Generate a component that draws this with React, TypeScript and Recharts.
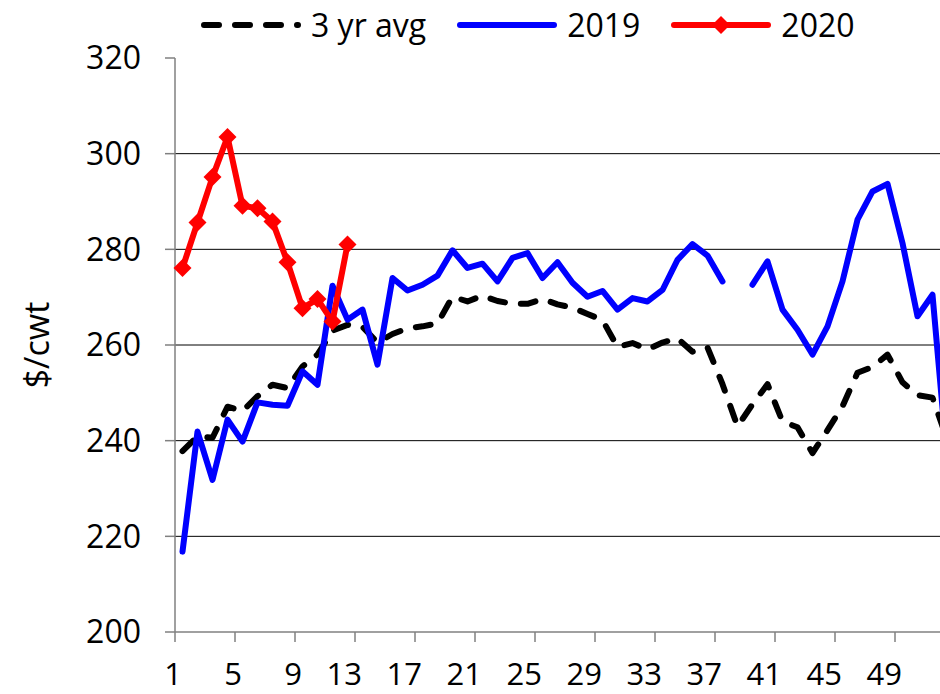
import React from 'react';
import { LineChart, Line, XAxis, YAxis, CartesianGrid } from 'recharts';

const weeks = [
  1, 2, 3, 4, 5, 6, 7, 8, 9, 10, 11, 12, 13, 14, 15, 16, 17, 18, 19, 20, 21, 22, 23, 24, 25, 26,
  27, 28, 29, 30, 31, 32, 33, 34, 35, 36, 37, 38, 39, 40, 41, 42, 43, 44, 45, 46, 47, 48, 49, 50, 51, 52,
];

const avg3yr = [
  237.8, 240.9, 240.6, 247.1, 246.2, 249.3, 251.7, 251.0, 255.5, 258.0, 263.0, 264.2, 263.8,
  260.5, 262.3, 263.5, 263.9, 264.5, 270.1, 269.1, 270.3, 269.2, 268.6, 268.6, 269.6, 268.5,
  267.8, 266.5, 265.2, 259.6, 260.4, 259.1, 260.5, 261.4, 258.6, 259.5, 251.8, 243.0, 247.6,
  251.8, 244.0, 242.8, 237.4, 242.2, 247.2, 254.2, 255.4, 258.0, 252.2, 249.5, 249.0, 240.0,
];

const y2019: (number | null)[] = [
  216.8, 241.9, 231.8, 244.4, 239.8, 248.0, 247.5, 247.3, 254.5, 251.7, 272.4, 265.3, 267.4,
  255.9, 274.0, 271.4, 272.6, 274.5, 279.8, 276.1, 277.0, 273.3, 278.2, 279.2, 274.0, 277.3,
  273.0, 270.1, 271.3, 267.4, 269.8, 269.1, 271.5, 277.8, 281.1, 278.7, 273.3, null, 272.6,
  277.5, 267.4, 263.2, 258.0, 263.9, 273.3, 286.2, 292.1, 293.7, 281.3, 266.0, 270.5, 235.0,
];

const y2020 = [276.1, 285.6, 295.1, 303.5, 289.1, 288.6, 285.8, 277.3, 267.7, 269.6, 264.9, 281.0];

const yTicks = [200, 220, 240, 260, 280, 300, 320];
const gridValues = [220, 240, 260, 280, 300];
const xTicks = [0.5, 4.5, 8.5, 12.5, 16.5, 20.5, 24.5, 28.5, 32.5, 36.5, 40.5, 44.5, 48.5];
const xTickLabels = ['1', '5', '9', '13', '17', '21', '25', '29', '33', '37', '41', '45', '49'];
const yDomain = [200, 320];

const seriesNames = ['3 yr avg', '2019', '2020'];
const seriesKeys = ['avg', 'y2019', 'y2020'];
const seriesColors = ['#000000', '#0000FF', '#FF0000'];

const data = weeks.map((w, i) => ({
  week: w,
  avg: avg3yr[i],
  y2019: y2019[i],
  y2020: i < y2020.length ? y2020[i] : null,
}));

const FONT = '"Open Sans", "Liberation Sans", sans-serif';
const AXIS_GRAY = '#808080';
const DASH = '15 16';

const Diamond = (props: any) => {
  const { cx, cy, fill } = props;
  if (cx == null || cy == null || props.value == null) return null;
  const r = 9;
  return (
    <polygon
      points={`${cx},${cy - r} ${cx + r},${cy} ${cx},${cy + r} ${cx - r},${cy}`}
      fill={fill || '#FF0000'}
    />
  );
};

const XTick = (props: any) => {
  const { x, y, payload } = props;
  const idx = xTicks.indexOf(payload.value);
  return (
    <text x={x + 7} y={y + 41} textAnchor="end" fontSize={31} fontFamily={FONT} fill="#000">
      {xTickLabels[idx]}
    </text>
  );
};

const YLabel = (props: any) => {
  const vb = props.viewBox || { x: 0, y: 58, width: 175, height: 574 };
  const cx = vb.x + 36;
  const cy = vb.y + vb.height / 2;
  return (
    <text
      x={cx}
      y={cy}
      transform={`rotate(-90 ${cx} ${cy})`}
      textAnchor="middle"
      dominantBaseline="central"
      fontSize={34}
      fontFamily={FONT}
      fill="#000"
    >
      $/cwt
    </text>
  );
};

const gridGenerator = (args: any) => {
  const scale = args?.yAxis?.scale;
  if (typeof scale === 'function') return gridValues.map((v) => scale(v));
  if (scale && typeof scale.map === 'function') return gridValues.map((v) => scale.map(v));
  const off = args?.offset;
  if (off) {
    return gridValues.map(
      (v) => off.top + (off.height * (yDomain[1] - v)) / (yDomain[1] - yDomain[0])
    );
  }
  return [];
};

const LegendSample = ({ index }: { index: number }) => {
  const color = seriesColors[index];
  return (
    <svg width={100} height={24} style={{ display: 'block' }}>
      <line
        x1={3}
        y1={12}
        x2={97}
        y2={12}
        stroke={color}
        strokeWidth={6}
        strokeLinecap="round"
        strokeDasharray={index === 0 ? DASH : undefined}
      />
      {index === 2 ? <polygon points="50,3 59,12 50,21 41,12" fill={color} /> : null}
    </svg>
  );
};

const ChartLegend = () => (
  <div
    style={{
      position: 'absolute',
      left: 201,
      top: 0,
      height: 50,
      display: 'flex',
      alignItems: 'center',
      fontFamily: FONT,
      fontSize: 32,
      color: '#000',
      whiteSpace: 'nowrap',
    }}
  >
    {seriesNames.map((name, i) => (
      <div key={name} style={{ display: 'flex', alignItems: 'center', marginRight: 31 }}>
        <LegendSample index={i} />
        <span style={{ marginLeft: 10, lineHeight: '50px' }}>{name}</span>
      </div>
    ))}
  </div>
);

export default function App() {
  return (
    <div
      style={{
        position: 'absolute',
        left: 0,
        top: 0,
        width: 940,
        height: 694,
        overflow: 'hidden',
        background: '#fff',
      }}
    >
      <LineChart
        width={970}
        height={694}
        data={data}
        margin={{ top: 58, right: 15, bottom: 0, left: 0 }}
      >
        <CartesianGrid
          vertical={false}
          stroke="#000"
          strokeWidth={1}
          horizontalCoordinatesGenerator={gridGenerator}
        />
        <XAxis
          dataKey="week"
          type="number"
          domain={[0.5, 52.5]}
          ticks={xTicks}
          interval={0}
          height={62}
          tickSize={10}
          axisLine={{ stroke: AXIS_GRAY, strokeWidth: 1.5 }}
          tickLine={{ stroke: AXIS_GRAY, strokeWidth: 1.5 }}
          tick={<XTick />}
          allowDecimals
        />
        <YAxis
          type="number"
          domain={yDomain}
          ticks={yTicks}
          interval={0}
          width={175}
          tickSize={10}
          tickMargin={24}
          axisLine={{ stroke: AXIS_GRAY, strokeWidth: 1.5 }}
          tickLine={{ stroke: AXIS_GRAY, strokeWidth: 1.5 }}
          tick={{ fontSize: 32, fill: '#000', fontFamily: FONT }}
          label={<YLabel />}
        />
        <Line
          dataKey={seriesKeys[0]}
          name={seriesNames[0]}
          stroke={seriesColors[0]}
          strokeWidth={6}
          strokeDasharray={DASH}
          strokeLinecap="round"
          strokeLinejoin="round"
          dot={false}
          activeDot={false}
          isAnimationActive={false}
          type="linear"
        />
        <Line
          dataKey={seriesKeys[1]}
          name={seriesNames[1]}
          stroke={seriesColors[1]}
          strokeWidth={6}
          strokeLinecap="round"
          strokeLinejoin="round"
          dot={false}
          activeDot={false}
          isAnimationActive={false}
          type="linear"
        />
        <Line
          dataKey={seriesKeys[2]}
          name={seriesNames[2]}
          stroke={seriesColors[2]}
          fill={seriesColors[2]}
          strokeWidth={6}
          strokeLinecap="round"
          strokeLinejoin="round"
          dot={<Diamond />}
          activeDot={false}
          isAnimationActive={false}
          type="linear"
        />
      </LineChart>
      <ChartLegend />
    </div>
  );
}
